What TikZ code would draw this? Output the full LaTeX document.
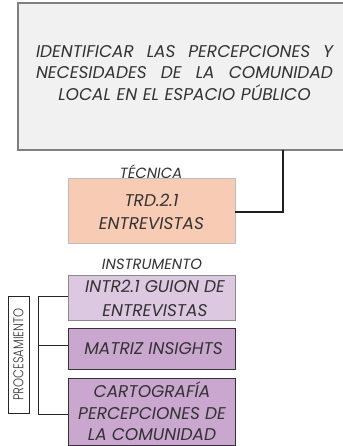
\documentclass[tikz,border=0pt]{standalone}
\usepackage{fontspec}
\usepackage{graphicx}
\setmainfont{Poppins}[ItalicFont={Poppins Italic}]
\newfontfamily\proclight{Poppins Light}
\definecolor{txt}{HTML}{333333}
\definecolor{topfill}{HTML}{F1F1F2}
\definecolor{topline}{HTML}{7F7F7F}
\definecolor{peach}{HTML}{F8CBB5}
\definecolor{peachline}{HTML}{BDBDBD}
\definecolor{lav}{HTML}{DCC8E0}
\definecolor{lavline}{HTML}{8A8A8A}
\definecolor{purp}{HTML}{C9A7CF}
\definecolor{purpline}{HTML}{333333}
\tikzset{
  lbl/.style={text=txt, font=\itshape\fontsize{14.8}{17}\selectfont, inner sep=0pt},
  boxtxt/.style={text=txt, font=\itshape\fontsize{17}{23.5}\selectfont, align=center, inner sep=0pt},
  conn/.style={draw=black!88, line width=1.4pt},
  thin/.style={draw=black!85, line width=0.9pt}
}
\begin{document}
\begin{tikzpicture}[x=1pt,y=-1pt]
\useasboundingbox (0,0) rectangle (342,446);
% top box
\path[fill=topfill, draw=topline, line width=1.2pt] (18,3) rectangle (346,150);
\node[boxtxt, align=left, text width=297pt, font=\itshape\fontsize{17}{21.6}\selectfont] (top) at (184.5,72.7)
  {\makebox[297pt][l]{IDENTIFICAR\hfill LAS\hfill PERCEPCIONES\hfill Y}\\
   \makebox[297pt][l]{NECESIDADES\hfill DE\hfill LA\hfill COMUNIDAD}\\
   \makebox[297pt][c]{LOCAL EN EL ESPACIO PÚBLICO}};
\coordinate (topout) at (283,150);
% tecnica
\node[lbl] (tec) at (151,172) {TÉCNICA};
\path[fill=peach, draw=peachline, line width=1pt] (68,179) rectangle (235,243);
\node[boxtxt, font=\itshape\fontsize{17}{23}\selectfont] (trd) at (151.5,211.5) {TRD.2.1\\ENTREVISTAS};
\coordinate (trdr) at (235,212);
\draw[conn] (topout) |- (trdr);
% instrumento
\node[lbl] (ins) at (152,264) {INSTRUMENTO};
\path[fill=lav, draw=lavline, line width=1pt] (68,275) rectangle (235,320);
\node[boxtxt, font=\itshape\fontsize{17}{24}\selectfont] (intr) at (155,298) {INTR2.1 GUION DE\\ENTREVISTAS};
\path[fill=purp, draw=purpline, line width=1pt] (68,328) rectangle (235,369);
\node[boxtxt] (mat) at (153.5,348.5) {MATRIZ INSIGHTS};
\path[fill=purp, draw=purpline, line width=1pt] (68,378) rectangle (235,445);
\node[boxtxt, font=\itshape\fontsize{17}{21.5}\selectfont] (car) at (152,411.5) {CARTOGRAFÍA\\PERCEPCIONES DE\\LA COMUNIDAD};
% bracket
\coordinate (b1) at (68,296);
\coordinate (b2) at (68,345);
\coordinate (b3) at (68,414);
\draw[thin] (b1) -- (38,296) -- (38,414) -- (b3);
\draw[thin] (38,345) -- (b2);
\node[draw=black!85, line width=0.9pt, minimum width=21pt, minimum height=117pt, inner sep=0pt] (proc) at (18.5,354.5) {};
\node[text=txt, rotate=90, inner sep=0pt] (proct) at (proc.center) {\resizebox{92pt}{10pt}{\proclight PROCESAMIENTO}};
\end{tikzpicture}
\end{document}
